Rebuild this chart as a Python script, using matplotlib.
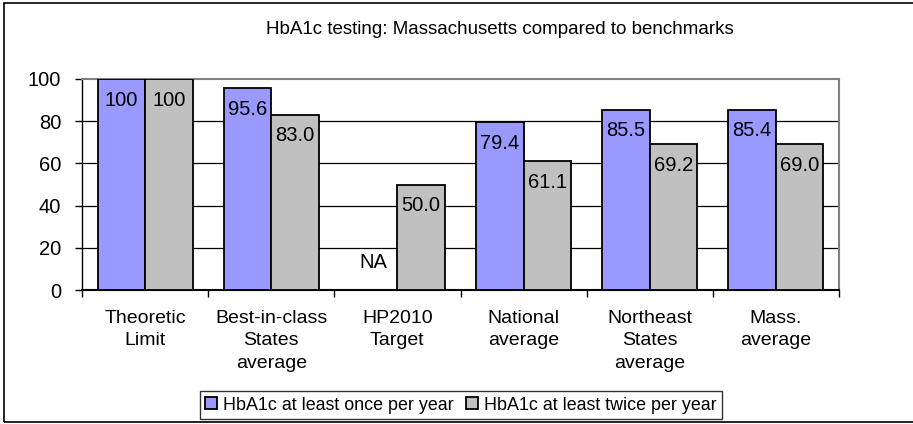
import matplotlib
matplotlib.use("Agg")
import matplotlib.pyplot as plt
import numpy as np
from matplotlib.patches import Rectangle

plt.rcParams['font.family'] = ['Liberation Sans', 'DejaVu Sans']

categories = ["Theoretic\nLimit", "Best-in-class\nStates\naverage", "HP2010\nTarget",
              "National\naverage", "Northeast\nStates\naverage", "Mass.\naverage"]
once_per_year = [100, 95.6, np.nan, 79.4, 85.5, 85.4]
twice_per_year = [100, 83.0, 50.0, 61.1, 69.2, 69.0]
once_labels = ["100", "95.6", "NA", "79.4", "85.5", "85.4"]
twice_labels = ["100", "83.0", "50.0", "61.1", "69.2", "69.0"]
series_names = ["HbA1c at least once per year", "HbA1c at least twice per year"]
yticks = [0, 20, 40, 60, 80, 100]

W, H = 913, 424
fig = plt.figure(figsize=(W / 100, H / 100), dpi=100)

# outer chart border
fig.patches.append(Rectangle((4 / W, 1 - 422 / H), 1.2, (422 - 3) / H,
                             transform=fig.transFigure, fill=False,
                             edgecolor='black', linewidth=1.2))

left, right, top, bottom = 82, 839, 79, 290
ax = fig.add_axes([left / W, 1 - bottom / H, (right - left) / W, (bottom - top) / H])

x = np.arange(len(categories))
bw = 0.376
b1 = ax.bar(x - bw / 2, once_per_year, bw, color='#9999FF', edgecolor='black',
            linewidth=1.3, label=series_names[0], zorder=3)
b2 = ax.bar(x + bw / 2, twice_per_year, bw, color='#C0C0C0', edgecolor='black',
            linewidth=1.3, label=series_names[1], zorder=3)

lab_fs = 14.5
for i in range(len(categories)):
    v = once_per_year[i]
    if np.isnan(v):
        ax.text(x[i] - bw / 2, 13, once_labels[i], ha='center', va='center',
                fontsize=lab_fs, zorder=4)
    else:
        ax.text(x[i] - bw / 2, v - 5.5, once_labels[i], ha='center', va='top',
                fontsize=lab_fs, zorder=4)
    v2 = twice_per_year[i]
    ax.text(x[i] + bw / 2, v2 - 5.5, twice_labels[i], ha='center', va='top',
            fontsize=lab_fs, zorder=4)

ax.set_xlim(-0.5, len(categories) - 0.5)
ax.set_ylim(0, 100)
ax.set_yticks(yticks)
ax.set_yticklabels([str(t) for t in yticks], fontsize=14.5)
for t in yticks[1:-1]:
    ax.axhline(t, color='black', linewidth=0.9, zorder=1)

ax.set_xticks(np.arange(-0.5, len(categories) + 0.5, 1))
ax.set_xticklabels([])
ax.tick_params(axis='x', direction='out', length=5, width=1, color='black')
ax.tick_params(axis='y', direction='out', length=5, width=1, color='black', pad=10)

for i, c in enumerate(categories):
    ax.text(x[i], -9.3, c, ha='center', va='top', fontsize=14, linespacing=1.42,
            transform=ax.transData)

ax.spines['left'].set_color('black')
ax.spines['bottom'].set_color('black')
ax.spines['bottom'].set_linewidth(1.5)
ax.spines['left'].set_linewidth(1.0)
ax.spines['top'].set_color('#808080')
ax.spines['right'].set_color('#808080')
ax.spines['top'].set_linewidth(1.5)
ax.spines['right'].set_linewidth(1.5)

fig.text(500 / W, 1 - 30 / H, "HbA1c testing: Massachusetts compared to benchmarks",
         ha='center', va='center', fontsize=13.5)

leg = fig.legend(handles=[b1, b2], labels=series_names, loc='center',
                 bbox_to_anchor=(461 / W, 1 - 405 / H), ncol=2, fontsize=12.9,
                 frameon=True, fancybox=False, edgecolor='black',
                 handlelength=0.65, handleheight=0.65, handletextpad=0.35,
                 columnspacing=0.7, borderpad=0.3, borderaxespad=0)
leg.get_frame().set_linewidth(1.0)

fig.savefig("out.png", dpi=100)
